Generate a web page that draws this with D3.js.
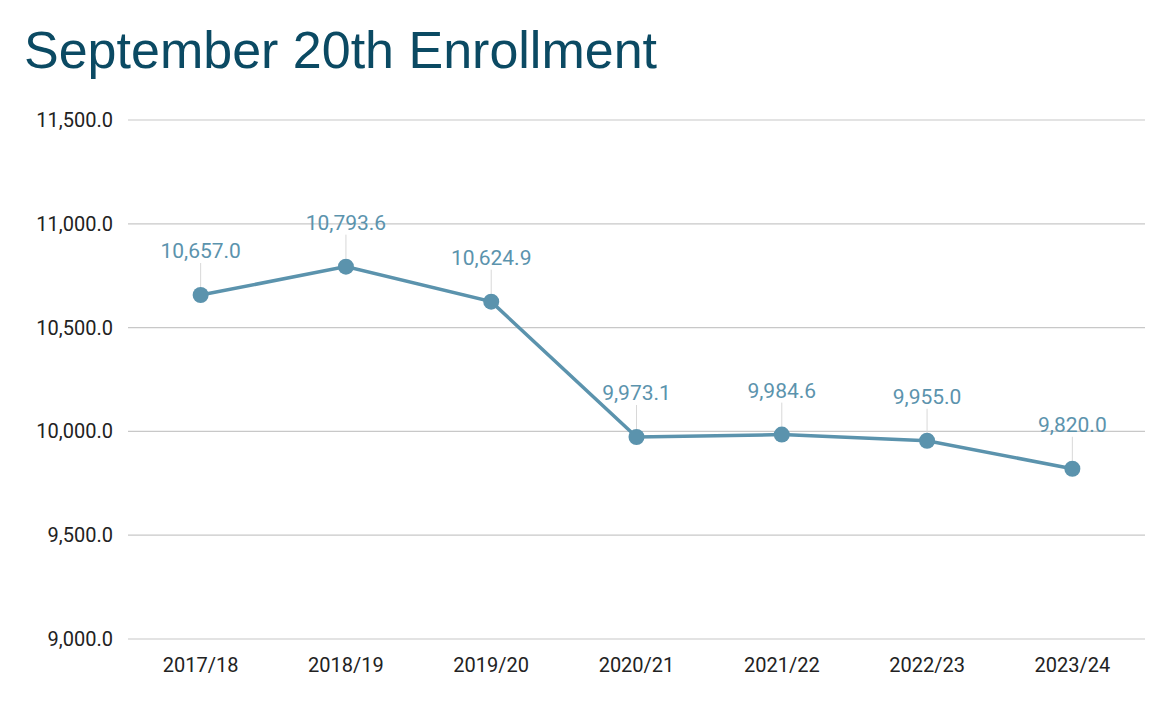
<!DOCTYPE html>
<html>
<head>
<meta charset="utf-8">
<script src="https://cdn.jsdelivr.net/npm/d3@7"></script>
<style>
  body { margin: 0; background: #fff; }
  text { font-family: Roboto, "Liberation Sans", Arial, sans-serif; }
</style>
</head>
<body>
<svg id="chart" width="1171" height="713"></svg>
<script>
const years = ['2017/18', '2018/19', '2019/20', '2020/21', '2021/22', '2022/23', '2023/24'];
const enrollment = [10657.0, 10793.6, 10624.9, 9973.1, 9984.6, 9955.0, 9820.0];
const yTicks = [9000, 9500, 10000, 10500, 11000, 11500];

const svg = d3.select('#chart');
const lineColor = '#5b93ad';

// title
svg.append('text')
  .attr('x', 24).attr('y', 68)
  .style('font-family', '"Liberation Sans", Arial, sans-serif')
  .attr('font-size', 52)
  .attr('fill', '#0b4a63')
  .text('September 20th Enrollment');

const x = d3.scalePoint().domain(years).range([128, 1145]).padding(0.5);
const y = d3.scaleLinear().domain([9000, 11500]).range([639, 120]);
const fmt = d3.format(',.1f');

// grid
svg.append('g')
  .selectAll('line')
  .data(yTicks)
  .join('line')
  .attr('x1', 128).attr('x2', 1145)
  .attr('y1', d => y(d)).attr('y2', d => y(d))
  .attr('stroke', '#c8c8c8').attr('stroke-width', 1.2);

// y axis labels
svg.append('g')
  .selectAll('text')
  .data(yTicks)
  .join('text')
  .attr('x', 113).attr('y', d => y(d) + 7)
  .attr('text-anchor', 'end')
  .attr('font-size', 20).attr('fill', '#222')
  .text(d => fmt(d));

// x axis labels
svg.append('g')
  .selectAll('text')
  .data(years)
  .join('text')
  .attr('x', d => x(d)).attr('y', 672)
  .attr('text-anchor', 'middle')
  .attr('font-size', 20).attr('fill', '#222')
  .text(d => d);

// leader lines
svg.append('g')
  .selectAll('line')
  .data(enrollment)
  .join('line')
  .attr('x1', (d, i) => x(years[i])).attr('x2', (d, i) => x(years[i]))
  .attr('y1', d => y(d) - 32).attr('y2', d => y(d) - 8)
  .attr('stroke', '#d8d8d8').attr('stroke-width', 1);

// line
svg.append('path')
  .datum(enrollment)
  .attr('fill', 'none')
  .attr('stroke', lineColor)
  .attr('stroke-width', 3.5)
  .attr('d', d3.line().x((d, i) => x(years[i])).y(d => y(d)));

// points
svg.append('g')
  .selectAll('circle')
  .data(enrollment)
  .join('circle')
  .attr('cx', (d, i) => x(years[i])).attr('cy', d => y(d))
  .attr('r', 8).attr('fill', lineColor);

// data labels
svg.append('g')
  .selectAll('text')
  .data(enrollment)
  .join('text')
  .attr('x', (d, i) => x(years[i])).attr('y', d => y(d) - 37)
  .attr('text-anchor', 'middle')
  .attr('font-size', 21).attr('fill', lineColor)
  .text(d => fmt(d));
</script>
</body>
</html>
